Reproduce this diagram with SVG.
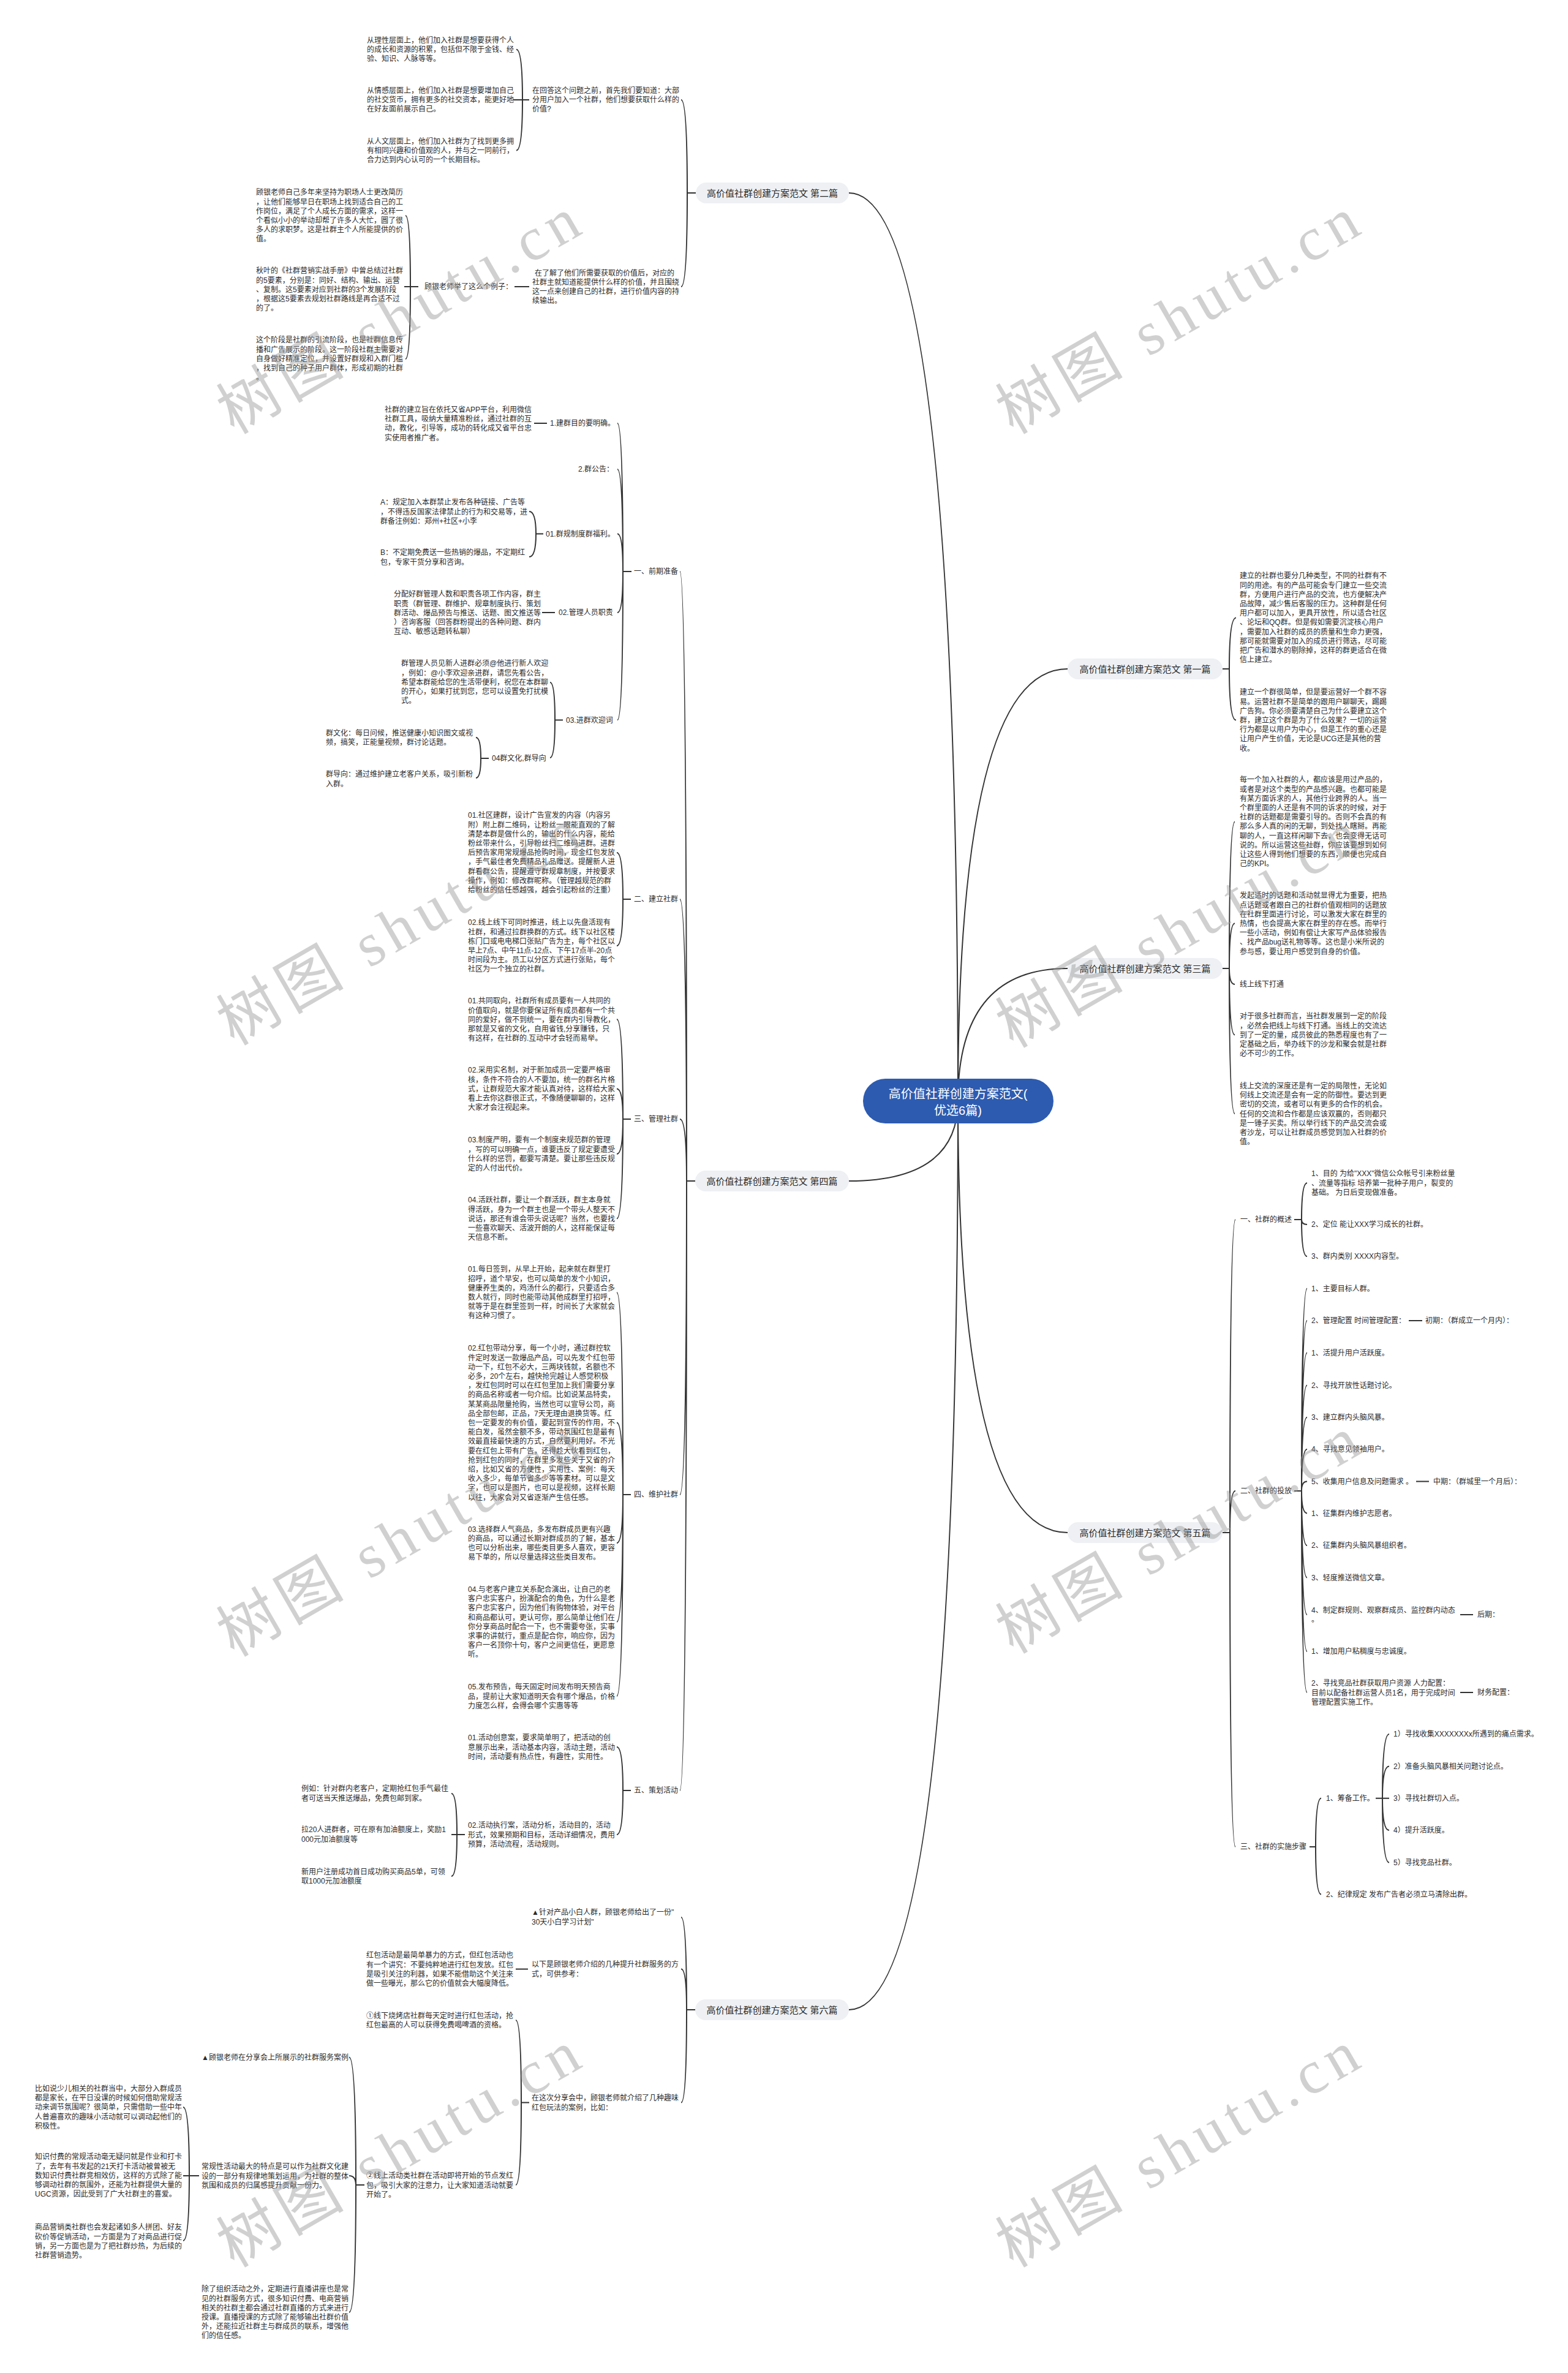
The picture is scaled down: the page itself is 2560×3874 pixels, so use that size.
<svg xmlns="http://www.w3.org/2000/svg" width="2560" height="3874" viewBox="0 0 2560 3874">
<defs>
<style>
.t{font-family:"Liberation Sans","Noto Sans CJK SC",sans-serif;font-size:12px;fill:#2b2b2b}
.n{font-family:"Liberation Sans","Noto Sans CJK SC",sans-serif;font-size:15px;fill:#2b2b2b}
.c{font-family:"Liberation Sans","Noto Sans CJK SC",sans-serif;font-size:20px;fill:#ffffff}
.nb{fill:#eef0f3}
.l{fill:none;stroke:#333;stroke-width:2}
.wm{font-family:"Liberation Serif","Noto Sans CJK SC",serif;font-size:100px;fill:#999;opacity:.45}
</style>
</defs>
<rect width="2560" height="3874" fill="#ffffff"/>
<g id="connectors" class="l">
<path d="M1564,1797 Q1564,315 1386,315"/>
<path d="M1564,1797 Q1564,1928 1386,1928"/>
<path d="M1564,1797 Q1564,3281 1386,3281"/>
<path d="M1564,1797 Q1564,1092 1743,1092"/>
<path d="M1564,1797 Q1564,1581 1743,1581"/>
<path d="M1564,1797 Q1564,2502 1743,2502"/>
<path d="M1136,315 H1122 M1122,315 Q1122,163 1112,163 M1122,315 Q1122,468 1112,468"/>
<path d="M864,163 H838 M853,163 Q853,80.7 843,80.7 M853,163 Q853,245.6 843,245.6"/>
<path d="M864,468 H840"/>
<path d="M683,468 H660 M670,468 Q670,352 662,352 M670,468 Q670,586 662,586"/>
<path d="M1135,1928 H1121 M1121,1928 Q1121,933 1110,933 M1121,1928 Q1121,1468 1110,1468 M1121,1928 Q1121,1827 1110,1827 M1121,1928 Q1121,2440 1110,2440 M1121,1928 Q1121,2923 1110,2923"/>
<path d="M1031,933 H1017 M1017,933 Q1017,691 1008,691 M1017,933 Q1017,766 1008,766 M1017,933 Q1017,871.5 1008,871.5 M1017,933 Q1017,1000 1008,1000 M1017,933 Q1017,1175.5 1008,1175.5"/>
<path d="M893,691 H872"/>
<path d="M887,871.5 H875 M875,871.5 Q875,835 864,835 M875,871.5 Q875,909 864,909"/>
<path d="M906,1000 H885"/>
<path d="M919,1175.5 H906 M906,1175.5 Q906,1114 898,1114 M906,1175.5 Q906,1237 898,1237"/>
<path d="M798,1238 H785 M785,1238 Q785,1204 777,1204 M785,1238 Q785,1270 777,1270"/>
<path d="M1030,1468 H1017 M1017,1468 Q1017,1392 1007,1392 M1017,1468 Q1017,1544 1007,1544"/>
<path d="M1030,1827 H1017 M1017,1827 Q1017,1664 1007,1664 M1017,1827 Q1017,1777.5 1007,1777.5 M1017,1827 Q1017,1884 1007,1884 M1017,1827 Q1017,1989.5 1007,1989.5"/>
<path d="M1030,2440 H1017 M1017,2440 Q1017,2110 1007,2110 M1017,2440 Q1017,2322.6 1007,2322.6 M1017,2440 Q1017,2519 1007,2519 M1017,2440 Q1017,2647.8 1007,2647.8 M1017,2440 Q1017,2769 1007,2769"/>
<path d="M1030,2923 H1017 M1017,2923 Q1017,2852 1007,2852 M1017,2923 Q1017,2995 1007,2995"/>
<path d="M759,2995 H737 M746,2995 Q746,2928 737,2928 M746,2995 Q746,3063 737,3063"/>
<path d="M1135,3281 H1121 M1121,3281 Q1121,3130 1112,3130 M1121,3281 Q1121,3214.6 1112,3214.6 M1121,3281 Q1121,3432.6 1112,3432.6"/>
<path d="M862,3214.6 H842"/>
<path d="M864,3432.6 H851 M851,3432.6 Q851,3298 842,3298 M851,3432.6 Q851,3567 842,3567"/>
<path d="M595,3567 H581 M581,3567 Q581,3358.6 570,3358.6 M581,3567 Q581,3552 570,3552 M581,3567 Q581,3775 570,3775"/>
<path d="M325,3552 H299 M309,3552 Q309,3440 299,3440 M309,3552 Q309,3658 299,3658"/>
<path d="M1996,1092 H2007 M2007,1092 Q2007,1008.4 2018,1008.4 M2007,1092 Q2007,1175.6 2018,1175.6"/>
<path d="M1996,1581 H2007 M2007,1581 Q2007,1341.4 2016,1341.4 M2007,1581 Q2007,1507.6 2016,1507.6 M2007,1581 Q2007,1607 2016,1607 M2007,1581 Q2007,1689.4 2016,1689.4 M2007,1581 Q2007,1818.2 2016,1818.2"/>
<path d="M1996,2502 H2008 M2008,2502 Q2008,1991 2017,1991 M2008,2502 Q2008,2434 2017,2434 M2008,2502 Q2008,3015 2017,3015"/>
<path d="M2113,1991 H2125 M2125,1991 Q2125,1931.2 2134,1931.2 M2125,1991 Q2125,1999 2134,1999 M2125,1991 Q2125,2051 2134,2051"/>
<path d="M2113,2434 H2125 M2125,2434 Q2125,2103.6 2134,2103.6 M2125,2434 Q2125,2156 2134,2156 M2125,2434 Q2125,2208.5 2134,2208.5 M2125,2434 Q2125,2261.5 2134,2261.5 M2125,2434 Q2125,2313.7 2134,2313.7 M2125,2434 Q2125,2366 2134,2366 M2125,2434 Q2125,2418.6 2134,2418.6 M2125,2434 Q2125,2470.4 2134,2470.4 M2125,2434 Q2125,2523 2134,2523 M2125,2434 Q2125,2575.5 2134,2575.5 M2125,2434 Q2125,2636 2134,2636 M2125,2434 Q2125,2696 2134,2696 M2125,2434 Q2125,2763 2134,2763"/>
<path d="M2300,2156 H2322 M2312,2418.6 H2333 M2384,2636 H2405 M2384,2763 H2405"/>
<path d="M2138,3015 H2148 M2148,3015 Q2148,2935.7 2157,2935.7 M2148,3015 Q2148,3092.6 2157,3092.6"/>
<path d="M2246,2935.7 H2268 M2257,2935.7 Q2257,2831 2268,2831 M2257,2935.7 Q2257,2883.5 2268,2883.5 M2257,2935.7 Q2257,2988 2268,2988 M2257,2935.7 Q2257,3040.6 2268,3040.6"/>
</g>

<g id="root"><rect x="1409" y="1761" width="311" height="73" rx="36.5" fill="#2d5bb0"/><text class="c" text-anchor="middle"><tspan x="1564" y="1792.6">高价值社群创建方案范文(</tspan><tspan x="1564" y="1819.6">优选6篇)</tspan></text></g>

<g id="b1"><rect class="nb" x="1743" y="1075" width="253" height="34" rx="17"/><text class="n" x="1869.5" y="1097.6" text-anchor="middle">高价值社群创建方案范文 第一篇</text></g>
<g id="b2"><rect class="nb" x="1136" y="298" width="250" height="34" rx="17"/><text class="n" x="1261" y="320.6" text-anchor="middle">高价值社群创建方案范文 第二篇</text></g>
<g id="b3"><rect class="nb" x="1743" y="1564" width="253" height="34" rx="17"/><text class="n" x="1869.5" y="1586.6" text-anchor="middle">高价值社群创建方案范文 第三篇</text></g>
<g id="b4"><rect class="nb" x="1135" y="1911" width="251" height="34" rx="17"/><text class="n" x="1260.5" y="1933.6" text-anchor="middle">高价值社群创建方案范文 第四篇</text></g>
<g id="b5"><rect class="nb" x="1743" y="2485" width="253" height="34" rx="17"/><text class="n" x="1869.5" y="2507.6" text-anchor="middle">高价值社群创建方案范文 第五篇</text></g>
<g id="b6"><rect class="nb" x="1135" y="3264" width="251" height="34" rx="17"/><text class="n" x="1260.5" y="3286.6" text-anchor="middle">高价值社群创建方案范文 第六篇</text></g>

<!-- 第二篇 -->
<g id="p2-a1"><text class="t"><tspan x="869" y="152">在回答这个问题之前，首先我们要知道：大部</tspan><tspan x="869" dy="15.2">分用户加入一个社群，他们想要获取什么样的</tspan><tspan x="869" dy="15.2">价值?</tspan></text></g>
<g id="p2-a2"><text class="t"><tspan x="873" y="449.5">在了解了他们所需要获取的价值后，对应的</tspan><tspan x="869" dy="15.2">社群主就知道能提供什么样的价值，并且围绕</tspan><tspan x="869" dy="15.2">这一点来创建自己的社群，进行价值内容的持</tspan><tspan x="869" dy="15.2">续输出。</tspan></text></g>
<g id="p2-a1a"><text class="t"><tspan x="599" y="70">从理性层面上，他们加入社群是想要获得个人</tspan><tspan x="599" dy="15.2">的成长和资源的积累，包括但不限于金钱、经</tspan><tspan x="599" dy="15.2">验、知识、人脉等等。</tspan></text></g>
<g id="p2-a1b"><text class="t"><tspan x="599" y="152">从情感层面上，他们加入社群是想要增加自己</tspan><tspan x="599" dy="15.2">的社交货币，拥有更多的社交资本，能更好地</tspan><tspan x="599" dy="15.2">在好友面前展示自己。</tspan></text></g>
<g id="p2-a1c"><text class="t"><tspan x="599" y="235">从人文层面上，他们加入社群为了找到更多拥</tspan><tspan x="599" dy="15.2">有相同兴趣和价值观的人，并与之一同前行，</tspan><tspan x="599" dy="15.2">合力达到内心认可的一个长期目标。</tspan></text></g>
<g id="p2-a2x"><text class="t" x="693" y="472.4">顾银老师举了这么个例子：</text></g>
<g id="p2-a2a"><text class="t"><tspan x="418" y="318.4">顾银老师自己多年来坚持为职场人士更改简历</tspan><tspan x="418" dy="15.2">，让他们能够早日在职场上找到适合自己的工</tspan><tspan x="418" dy="15.2">作岗位，满足了个人成长方面的需求，这样一</tspan><tspan x="418" dy="15.2">个看似小小的举动却帮了许多人大忙，圆了很</tspan><tspan x="418" dy="15.2">多人的求职梦。这是社群主个人所能提供的价</tspan><tspan x="418" dy="15.2">值。</tspan></text></g>
<g id="p2-a2b"><text class="t"><tspan x="418" y="446.4">秋叶的《社群营销实战手册》中曾总结过社群</tspan><tspan x="418" dy="15.2">的5要素，分别是：同好、结构、输出、运营</tspan><tspan x="418" dy="15.2">、复制。这5要素对应到社群的3个发展阶段</tspan><tspan x="418" dy="15.2">，根据这5要素去规划社群路线是再合适不过</tspan><tspan x="418" dy="15.2">的了。</tspan></text></g>
<g id="p2-a2c"><text class="t"><tspan x="418" y="559.4">这个阶段是社群的引流阶段，也是社群信息传</tspan><tspan x="418" dy="15.2">播和广告展示的阶段。这一阶段社群主需要对</tspan><tspan x="418" dy="15.2">自身做好精准定位，并设置好群规和入群门槛</tspan><tspan x="418" dy="15.2">，找到自己的种子用户群体，形成初期的社群</tspan><tspan x="418" dy="15.2">。</tspan></text></g>

<!-- 第四篇 -->
<g id="p4-1"><text class="t" x="1035" y="937.4">一、前期准备</text></g>
<g id="p4-1-1"><text class="t" x="898" y="695.4">1.建群目的要明确。</text></g>
<g id="p4-1-1a"><text class="t"><tspan x="628" y="673">社群的建立旨在依托又省APP平台，利用微信</tspan><tspan x="628" dy="15.2">社群工具，吸纳大量精准粉丝，通过社群的互</tspan><tspan x="628" dy="15.2">动，教化，引导等，成功的转化成又省平台忠</tspan><tspan x="628" dy="15.2">实使用者推广者。</tspan></text></g>
<g id="p4-1-2"><text class="t" x="944" y="770.4">2.群公告：</text></g>
<g id="p4-1-3"><text class="t" x="891" y="876">01.群规制度群福利。</text></g>
<g id="p4-1-3a"><text class="t"><tspan x="621" y="824.4">A：规定加入本群禁止发布各种链接、广告等</tspan><tspan x="621" dy="15.2">，不得违反国家法律禁止的行为和交易等，进</tspan><tspan x="621" dy="15.2">群备注例如：郑州+社区+小李</tspan></text></g>
<g id="p4-1-3b"><text class="t"><tspan x="621" y="906.4">B：不定期免费送一些热销的爆品，不定期红</tspan><tspan x="621" dy="15.2">包，专家干货分享和咨询。</tspan></text></g>
<g id="p4-1-4"><text class="t" x="912" y="1004.4">02.管理人员职责</text></g>
<g id="p4-1-4a"><text class="t"><tspan x="643" y="974.4">分配好群管理人数和职责各项工作内容，群主</tspan><tspan x="643" dy="15.2">职责（群管理、群维护、规章制度执行、策划</tspan><tspan x="643" dy="15.2">群活动、爆品预告与推送、话题、图文推送等</tspan><tspan x="643" dy="15.2">）咨询客服（回答群粉提出的各种问题、群内</tspan><tspan x="643" dy="15.2">互动、敏感话题转私聊）</tspan></text></g>
<g id="p4-1-5"><text class="t" x="924" y="1180">03.进群欢迎词</text></g>
<g id="p4-1-5a"><text class="t"><tspan x="655" y="1087.4">群管理人员见新人进群必须@他进行新人欢迎</tspan><tspan x="655" dy="15.2">，例如：@小李欢迎亲进群，请您先看公告，</tspan><tspan x="655" dy="15.2">希望本群能给您的生活带便利，祝您在本群聊</tspan><tspan x="655" dy="15.2">的开心，如果打扰到您，您可以设置免打扰模</tspan><tspan x="655" dy="15.2">式。</tspan></text></g>
<g id="p4-1-5b"><text class="t" x="803" y="1242.4">04群文化,群导向</text></g>
<g id="p4-1-5b1"><text class="t"><tspan x="532" y="1201">群文化：每日问候，推送健康小知识图文或视</tspan><tspan x="532" dy="15.2">频，搞笑，正能量视频，群讨论话题。</tspan></text></g>
<g id="p4-1-5b2"><text class="t"><tspan x="532" y="1268.4">群导向：通过维护建立老客户关系，吸引新粉</tspan><tspan x="532" dy="15.2">入群。</tspan></text></g>

<g id="p4-2"><text class="t" x="1035" y="1472.4">二、建立社群</text></g>
<g id="p4-2a"><text class="t"><tspan x="764" y="1335.4">01.社区建群，设计广告宣发的内容（内容另</tspan><tspan x="764" dy="15.2">附）附上群二维码，让粉丝一眼能直观的了解</tspan><tspan x="764" dy="15.2">清楚本群是做什么的，输出的什么内容，能给</tspan><tspan x="764" dy="15.2">粉丝带来什么，引导粉丝扫二维码进群。进群</tspan><tspan x="764" dy="15.2">后预告家用常规爆品抢购时间，现金红包发放</tspan><tspan x="764" dy="15.2">，手气最佳者免费精品礼品赠送。提醒新人进</tspan><tspan x="764" dy="15.2">群看群公告，提醒遵守群规章制度，并按要求</tspan><tspan x="764" dy="15.2">操作，例如：修改群昵称。（管理越规范的群</tspan><tspan x="764" dy="15.2">给粉丝的信任感越强，越会引起粉丝的注重）</tspan></text></g>
<g id="p4-2b"><text class="t"><tspan x="764" y="1510.4">02.线上线下可同时推进，线上以先盘活现有</tspan><tspan x="764" dy="15.2">社群，和通过拉群换群的方式。线下以社区楼</tspan><tspan x="764" dy="15.2">栋门口或电电梯口张贴广告为主，每个社区以</tspan><tspan x="764" dy="15.2">早上7点、中午11点-12点、下午17点半-20点</tspan><tspan x="764" dy="15.2">时间段为主。员工以分区方式进行张贴，每个</tspan><tspan x="764" dy="15.2">社区为一个独立的社群。</tspan></text></g>

<g id="p4-3"><text class="t" x="1035" y="1831.4">三、管理社群</text></g>
<g id="p4-3a"><text class="t"><tspan x="764" y="1638.4">01.共同取向，社群所有成员要有一人共同的</tspan><tspan x="764" dy="15.2">价值取向，就是你要保证所有成员都有一个共</tspan><tspan x="764" dy="15.2">同的爱好，做不到统一，要在群内引导教化，</tspan><tspan x="764" dy="15.2">那就是又省的文化，自用省钱,分享赚钱，只</tspan><tspan x="764" dy="15.2">有这样，在社群的.互动中才会轻而易举。</tspan></text></g>
<g id="p4-3b"><text class="t"><tspan x="764" y="1751.4">02.采用实名制，对于新加成员一定要严格审</tspan><tspan x="764" dy="15.2">核，条件不符合的人不要加，统一的群名片格</tspan><tspan x="764" dy="15.2">式，让群规范大家才能认真对待，这样给大家</tspan><tspan x="764" dy="15.2">看上去你这群很正式，不像随便聊聊的，这样</tspan><tspan x="764" dy="15.2">大家才会注视起来。</tspan></text></g>
<g id="p4-3c"><text class="t"><tspan x="764" y="1865.4">03.制度严明，要有一个制度来规范群的管理</tspan><tspan x="764" dy="15.2">，写的可以明确一点，谁要违反了规定要遭受</tspan><tspan x="764" dy="15.2">什么样的惩罚，都要写清楚。要让那些违反规</tspan><tspan x="764" dy="15.2">定的人付出代价。</tspan></text></g>
<g id="p4-3d"><text class="t"><tspan x="764" y="1963.4">04.活跃社群，要让一个群活跃，群主本身就</tspan><tspan x="764" dy="15.2">得活跃，身为一个群主也是一个带头人整天不</tspan><tspan x="764" dy="15.2">说话，那还有谁会带头说话呢？当然，也要找</tspan><tspan x="764" dy="15.2">一些喜欢聊天、活波开朗的人，这样能保证每</tspan><tspan x="764" dy="15.2">天信息不断。</tspan></text></g>

<g id="p4-4"><text class="t" x="1035" y="2444.4">四、维护社群</text></g>
<g id="p4-4a"><text class="t"><tspan x="764" y="2076.4">01.每日签到，从早上开始，起来就在群里打</tspan><tspan x="764" dy="15.2">招呼，道个早安，也可以简单的发个小知识，</tspan><tspan x="764" dy="15.2">健康养生类的，鸡汤什么的都行，只要适合多</tspan><tspan x="764" dy="15.2">数人就行，同时也能带动其他成群里打招呼，</tspan><tspan x="764" dy="15.2">就等于是在群里签到一样，时间长了大家就会</tspan><tspan x="764" dy="15.2">有这种习惯了。</tspan></text></g>
<g id="p4-4b"><text class="t"><tspan x="764" y="2205.4">02.红包带动分享，每一个小时，通过群控软</tspan><tspan x="764" dy="15.2">件定时发送一款爆品产品，可以先发个红包带</tspan><tspan x="764" dy="15.2">动一下，红包不必大，三两块钱就，名额也不</tspan><tspan x="764" dy="15.2">必多，20个左右，越快抢完越让人感觉积极</tspan><tspan x="764" dy="15.2">，发红包同时可以在红包里加上我们需要分享</tspan><tspan x="764" dy="15.2">的商品名称或者一句介绍。比如说某品特卖，</tspan><tspan x="764" dy="15.2">某某商品限量抢购，当然也可以宣导公司，商</tspan><tspan x="764" dy="15.2">品全部包邮，正品，7天无理由退换货等。红</tspan><tspan x="764" dy="15.2">包一定要发的有价值，要起到宣传的作用，不</tspan><tspan x="764" dy="15.2">能白发，虽然金额不多，带动氛围红包是最有</tspan><tspan x="764" dy="15.2">效最直接最快速的方式，自然要利用好。不光</tspan><tspan x="764" dy="15.2">要在红包上带有广告，还得趁大伙看到红包，</tspan><tspan x="764" dy="15.2">抢到红包的同时，在群里多发些关于又省的介</tspan><tspan x="764" dy="15.2">绍，比如又省的方便性，实用性、案例：每天</tspan><tspan x="764" dy="15.2">收入多少，每单节省多少等等素材。可以是文</tspan><tspan x="764" dy="15.2">字，也可以是图片，也可以是视频，这样长期</tspan><tspan x="764" dy="15.2">以往，大家会对又省逐渐产生信任感。</tspan></text></g>
<g id="p4-4c"><text class="t"><tspan x="764" y="2500.8">03.选择群人气商品，多发布群成员更有兴趣</tspan><tspan x="764" dy="15.2">的商品，可以通过长期对群成员的了解，基本</tspan><tspan x="764" dy="15.2">也可以分析出来，哪些类目更多人喜欢，更容</tspan><tspan x="764" dy="15.2">易下单的，所以尽量选择这些类目发布。</tspan></text></g>
<g id="p4-4d"><text class="t"><tspan x="764" y="2599">04.与老客户建立关系配合演出，让自己的老</tspan><tspan x="764" dy="15.2">客户忠实客户，扮演配合的角色，为什么是老</tspan><tspan x="764" dy="15.2">客户忠实客户，因为他们有购物体验，对平台</tspan><tspan x="764" dy="15.2">和商品都认可，更认可你，那么简单让他们在</tspan><tspan x="764" dy="15.2">你分享商品时配合一下，也不需要夸张，实事</tspan><tspan x="764" dy="15.2">求事的讲就行，重点是配合你，响应你，因为</tspan><tspan x="764" dy="15.2">客户一名顶你十句，客户之间更信任，更愿意</tspan><tspan x="764" dy="15.2">听。</tspan></text></g>
<g id="p4-4e"><text class="t"><tspan x="764" y="2758.4">05.发布预告，每天固定时间发布明天预告商</tspan><tspan x="764" dy="15.2">品，提前让大家知道明天会有哪个爆品，价格</tspan><tspan x="764" dy="15.2">力度怎么样，会得会哪个实惠等等</tspan></text></g>

<g id="p4-5"><text class="t" x="1035" y="2927.4">五、策划活动</text></g>
<g id="p4-5a"><text class="t"><tspan x="764" y="2841.4">01.活动创意案，要求简单明了，把活动的创</tspan><tspan x="764" dy="15.2">意展示出来，活动基本内容，活动主题，活动</tspan><tspan x="764" dy="15.2">时间，活动要有热点性，有趣性，实用性。</tspan></text></g>
<g id="p4-5b"><text class="t"><tspan x="764" y="2984.4">02.活动执行案，活动分析，活动目的，活动</tspan><tspan x="764" dy="15.2">形式，效果预期和目标，活动详细情况，费用</tspan><tspan x="764" dy="15.2">预算，活动流程，活动规则。</tspan></text></g>
<g id="p4-5b1"><text class="t"><tspan x="492" y="2924.4">例如：针对群内老客户，定期抢红包手气最佳</tspan><tspan x="492" dy="15.2">者可送当天推送爆品，免费包邮到家。</tspan></text></g>
<g id="p4-5b2"><text class="t"><tspan x="492" y="2991.4">拉20人进群者，可在原有加油额度上，奖励1</tspan><tspan x="492" dy="15.2">000元加油额度等</tspan></text></g>
<g id="p4-5b3"><text class="t"><tspan x="492" y="3060">新用户注册成功首日成功购买商品5单，可领</tspan><tspan x="492" dy="15.2">取1000元加油额度</tspan></text></g>

<!-- 第六篇 -->
<g id="p6-a"><text class="t"><tspan x="868" y="3126.4">▲针对产品小白人群，顾银老师给出了一份"</tspan><tspan x="868" dy="15.2">30天小白学习计划"</tspan></text></g>
<g id="p6-b"><text class="t"><tspan x="868" y="3211.4">以下是顾银老师介绍的几种提升社群服务的方</tspan><tspan x="868" dy="15.2">式，可供参考：</tspan></text></g>
<g id="p6-b1"><text class="t"><tspan x="598" y="3196.4">红包活动是最简单暴力的方式，但红包活动也</tspan><tspan x="598" dy="15.2">有一个讲究：不要纯粹地进行红包发放。红包</tspan><tspan x="598" dy="15.2">是吸引关注的利器，如果不能借助这个关注来</tspan><tspan x="598" dy="15.2">做一些曝光，那么它的价值就会大幅度降低。</tspan></text></g>
<g id="p6-c"><text class="t"><tspan x="868" y="3429.4">在这次分享会中，顾银老师就介绍了几种趣味</tspan><tspan x="868" dy="15.2">红包玩法的案例，比如：</tspan></text></g>
<g id="p6-c1"><text class="t"><tspan x="598" y="3295">①线下烧烤店社群每天定时进行红包活动，抢</tspan><tspan x="598" dy="15.2">红包最高的人可以获得免费喝啤酒的资格。</tspan></text></g>
<g id="p6-c2"><text class="t"><tspan x="598" y="3556.4">②线上活动类社群在活动即将开始的节点发红</tspan><tspan x="598" dy="15.2">包，吸引大家的注意力，让大家知道活动就要</tspan><tspan x="598" dy="15.2">开始了。</tspan></text></g>
<g id="p6-c2a"><text class="t" x="329" y="3363">▲顾银老师在分享会上所展示的社群服务案例</text></g>
<g id="p6-c2b"><text class="t"><tspan x="329" y="3541.4">常规性活动最大的特点是可以作为社群文化建</tspan><tspan x="329" dy="15.2">设的一部分有规律地策划运用，为社群的整体</tspan><tspan x="329" dy="15.2">氛围和成员的归属感提升贡献一份力。</tspan></text></g>
<g id="p6-c2c"><text class="t"><tspan x="329" y="3741.4">除了组织活动之外，定期进行直播讲座也是常</tspan><tspan x="329" dy="15.2">见的社群服务方式，很多知识付费、电商营销</tspan><tspan x="329" dy="15.2">相关的社群主都会通过社群直播的方式来进行</tspan><tspan x="329" dy="15.2">授课。直播授课的方式除了能够输出社群价值</tspan><tspan x="329" dy="15.2">外，还能拉近社群主与群成员的联系，增强他</tspan><tspan x="329" dy="15.2">们的信任感。</tspan></text></g>
<g id="p6-c2b1"><text class="t"><tspan x="57" y="3414">比如说少儿相关的社群当中，大部分入群成员</tspan><tspan x="57" dy="15.2">都是家长，在平日没课的时候如何借助常规活</tspan><tspan x="57" dy="15.2">动来调节氛围呢？很简单，只需借助一些中年</tspan><tspan x="57" dy="15.2">人普遍喜欢的趣味小活动就可以调动起他们的</tspan><tspan x="57" dy="15.2">积极性。</tspan></text></g>
<g id="p6-c2b2"><text class="t"><tspan x="57" y="3525.4">知识付费的常规活动毫无疑问就是作业和打卡</tspan><tspan x="57" dy="15.2">了，去年有书发起的21天打卡活动被曾被无</tspan><tspan x="57" dy="15.2">数知识付费社群竞相效仿，这样的方式除了能</tspan><tspan x="57" dy="15.2">够调动社群的氛围外，还能为社群提供大量的</tspan><tspan x="57" dy="15.2">UGC资源，因此受到了广大社群主的喜爱。</tspan></text></g>
<g id="p6-c2b3"><text class="t"><tspan x="57" y="3640.4">商品营销类社群也会发起诸如多人拼团、好友</tspan><tspan x="57" dy="15.2">砍价等促销活动，一方面是为了对商品进行促</tspan><tspan x="57" dy="15.2">销，另一方面也是为了把社群炒热，为后续的</tspan><tspan x="57" dy="15.2">社群营销造势。</tspan></text></g>

<!-- 第一篇 -->
<g id="p1-a"><text class="t"><tspan x="2024" y="944.4">建立的社群也要分几种类型，不同的社群有不</tspan><tspan x="2024" dy="15.2">同的用途。有的产品可能会专门建立一些交流</tspan><tspan x="2024" dy="15.2">群，方便用户进行产品的交流，也方便解决产</tspan><tspan x="2024" dy="15.2">品故障，减少售后客服的压力。这种群是任何</tspan><tspan x="2024" dy="15.2">用户都可以加入，更具开放性，所以适合社区</tspan><tspan x="2024" dy="15.2">、论坛和QQ群。但是假如需要沉淀核心用户</tspan><tspan x="2024" dy="15.2">，需要加入社群的成员的质量和生命力更强，</tspan><tspan x="2024" dy="15.2">那可能就需要对加入的成员进行筛选，尽可能</tspan><tspan x="2024" dy="15.2">把广告和潜水的剔除掉，这样的群更适合在微</tspan><tspan x="2024" dy="15.2">信上建立。</tspan></text></g>
<g id="p1-b"><text class="t"><tspan x="2024" y="1134.4">建立一个群很简单，但是要运营好一个群不容</tspan><tspan x="2024" dy="15.2">易。运营社群不是简单的跟用户聊聊天，踢踢</tspan><tspan x="2024" dy="15.2">广告狗。你必须要清楚自己为什么要建立这个</tspan><tspan x="2024" dy="15.2">群，建立这个群是为了什么效果？一切的运营</tspan><tspan x="2024" dy="15.2">行为都是以用户为中心，但是工作的重心还是</tspan><tspan x="2024" dy="15.2">让用户产生价值，无论是UCG还是其他的营</tspan><tspan x="2024" dy="15.2">收。</tspan></text></g>

<!-- 第三篇 -->
<g id="p3-a"><text class="t"><tspan x="2024" y="1277.4">每一个加入社群的人，都应该是用过产品的，</tspan><tspan x="2024" dy="15.2">或者是对这个类型的产品感兴趣。也都可能是</tspan><tspan x="2024" dy="15.2">有某方面诉求的人，其他行业跨界的人。当一</tspan><tspan x="2024" dy="15.2">个群里面的人还是有不同的诉求的时候，对于</tspan><tspan x="2024" dy="15.2">社群的话题都是需要引导的。否则不会真的有</tspan><tspan x="2024" dy="15.2">那么多人真的闲的无聊，到处找人瞎掰。再能</tspan><tspan x="2024" dy="15.2">聊的人，一直这样闲聊下去，也会变得无话可</tspan><tspan x="2024" dy="15.2">说的。所以运营这些社群，你应该要想到如何</tspan><tspan x="2024" dy="15.2">让这些人得到他们想要的东西，顺便也完成自</tspan><tspan x="2024" dy="15.2">己的KPI。</tspan></text></g>
<g id="p3-b"><text class="t"><tspan x="2024" y="1466.4">发起适时的话题和活动就显得尤为重要，把热</tspan><tspan x="2024" dy="15.2">点话题或者跟自己的社群价值观相同的话题放</tspan><tspan x="2024" dy="15.2">在社群里面进行讨论，可以激发大家在群里的</tspan><tspan x="2024" dy="15.2">热情，也会提高大家在群里的存在感。而举行</tspan><tspan x="2024" dy="15.2">一些小活动，例如有偿让大家写产品体验报告</tspan><tspan x="2024" dy="15.2">、找产品bug送礼物等等。这也是小米所说的</tspan><tspan x="2024" dy="15.2">参与感，要让用户感觉到自身的价值。</tspan></text></g>
<g id="p3-c"><text class="t" x="2024" y="1611.4">线上线下打通</text></g>
<g id="p3-d"><text class="t"><tspan x="2024" y="1663.4">对于很多社群而言，当社群发展到一定的阶段</tspan><tspan x="2024" dy="15.2">，必然会把线上与线下打通。当线上的交流达</tspan><tspan x="2024" dy="15.2">到了一定的量，成员彼此的熟悉程度也有了一</tspan><tspan x="2024" dy="15.2">定基础之后，举办线下的沙龙和聚会就是社群</tspan><tspan x="2024" dy="15.2">必不可少的工作。</tspan></text></g>
<g id="p3-e"><text class="t"><tspan x="2024" y="1777">线上交流的深度还是有一定的局限性，无论如</tspan><tspan x="2024" dy="15.2">何线上交流还是会有一定的防御性。要达到更</tspan><tspan x="2024" dy="15.2">密切的交流，或者可以有更多的合作的机会。</tspan><tspan x="2024" dy="15.2">任何的交流和合作都是应该双赢的，否则都只</tspan><tspan x="2024" dy="15.2">是一锤子买卖。所以举行线下的产品交流会或</tspan><tspan x="2024" dy="15.2">者沙龙，可以让社群成员感觉到加入社群的价</tspan><tspan x="2024" dy="15.2">值。</tspan></text></g>

<!-- 第五篇 -->
<g id="p5-1"><text class="t" x="2025" y="1995.4">一、社群的概述</text></g>
<g id="p5-1a"><text class="t"><tspan x="2141" y="1920.4">1、目的 为给"XXX"微信公众帐号引来粉丝量</tspan><tspan x="2141" dy="15.2">、流量等指标 培养第一批种子用户，裂变的</tspan><tspan x="2141" dy="15.2">基础。 为日后变现做准备。</tspan></text></g>
<g id="p5-1b"><text class="t" x="2141" y="2003.4">2、定位 能让XXX学习成长的社群。</text></g>
<g id="p5-1c"><text class="t" x="2141" y="2055.4">3、群内类别 XXXX内容型。</text></g>
<g id="p5-2"><text class="t" x="2025" y="2438.4">二、社群的投放</text></g>
<g id="p5-2a"><text class="t" x="2141" y="2108">1、主要目标人群。</text></g>
<g id="p5-2b"><text class="t" x="2141" y="2160.4">2、管理配置 时间管理配置：</text></g>
<g id="p5-2b1"><text class="t" x="2327" y="2160.4">初期：（群成立一个月内）：</text></g>
<g id="p5-2c"><text class="t" x="2141" y="2213">1、活提升用户活跃度。</text></g>
<g id="p5-2d"><text class="t" x="2141" y="2266">2、寻找开放性话题讨论。</text></g>
<g id="p5-2e"><text class="t" x="2141" y="2318">3、建立群内头脑风暴。</text></g>
<g id="p5-2f"><text class="t" x="2141" y="2370.4">4、寻找意见领袖用户。</text></g>
<g id="p5-2g"><text class="t" x="2141" y="2423">5、收集用户信息及问题需求 。</text></g>
<g id="p5-2g1"><text class="t" x="2340" y="2423">中期：（群城里一个月后）：</text></g>
<g id="p5-2h"><text class="t" x="2141" y="2474.8">1、征集群内维护志愿者。</text></g>
<g id="p5-2i"><text class="t" x="2141" y="2527.4">2、征集群内头脑风暴组织者。</text></g>
<g id="p5-2j"><text class="t" x="2141" y="2580">3、轻度推送微信文章。</text></g>
<g id="p5-2k"><text class="t"><tspan x="2141" y="2633">4、制定群规则、观察群成员、监控群内动态</tspan><tspan x="2141" dy="15.2">。</tspan></text></g>
<g id="p5-2k1"><text class="t" x="2412" y="2640.4">后期：</text></g>
<g id="p5-2l"><text class="t" x="2141" y="2700.4">1、增加用户粘稠度与忠诚度。</text></g>
<g id="p5-2m"><text class="t"><tspan x="2141" y="2752.4">2、寻找竞品社群获取用户资源 人力配置：</tspan><tspan x="2141" dy="15.2">目前以配备社群运营人员1名，用于完成时间</tspan><tspan x="2141" dy="15.2">管理配置实施工作。</tspan></text></g>
<g id="p5-2m1"><text class="t" x="2412" y="2767.4">财务配置：</text></g>
<g id="p5-3"><text class="t" x="2025" y="3019.4">三、社群的实施步骤</text></g>
<g id="p5-3a"><text class="t" x="2165" y="2940">1、筹备工作。</text></g>
<g id="p5-3a1"><text class="t" x="2275" y="2835.4">1）寻找收集XXXXXXXx所遇到的痛点需求。</text></g>
<g id="p5-3a2"><text class="t" x="2275" y="2888">2）准备头脑风暴相关问题讨论点。</text></g>
<g id="p5-3a3"><text class="t" x="2275" y="2940">3）寻找社群切入点。</text></g>
<g id="p5-3a4"><text class="t" x="2275" y="2992.4">4）提升活跃度。</text></g>
<g id="p5-3a5"><text class="t" x="2275" y="3045">5）寻找竞品社群。</text></g>
<g id="p5-3b"><text class="t" x="2165" y="3097">2、纪律规定 发布广告者必须立马清除出群。</text></g>

<g id="watermarks">
<text class="wm" x="382" y="710" textLength="660" lengthAdjust="spacing" transform="rotate(-30 382 710)">树图 shutu.cn</text>
<text class="wm" x="382" y="1708" textLength="660" lengthAdjust="spacing" transform="rotate(-30 382 1708)">树图 shutu.cn</text>
<text class="wm" x="382" y="2706" textLength="660" lengthAdjust="spacing" transform="rotate(-30 382 2706)">树图 shutu.cn</text>
<text class="wm" x="382" y="3703" textLength="660" lengthAdjust="spacing" transform="rotate(-30 382 3703)">树图 shutu.cn</text>
<text class="wm" x="1654" y="710" textLength="660" lengthAdjust="spacing" transform="rotate(-30 1654 710)">树图 shutu.cn</text>
<text class="wm" x="1654" y="1712" textLength="660" lengthAdjust="spacing" transform="rotate(-30 1654 1712)">树图 shutu.cn</text>
<text class="wm" x="1654" y="2701" textLength="660" lengthAdjust="spacing" transform="rotate(-30 1654 2701)">树图 shutu.cn</text>
<text class="wm" x="1654" y="3703" textLength="660" lengthAdjust="spacing" transform="rotate(-30 1654 3703)">树图 shutu.cn</text>
</g>
</svg>
